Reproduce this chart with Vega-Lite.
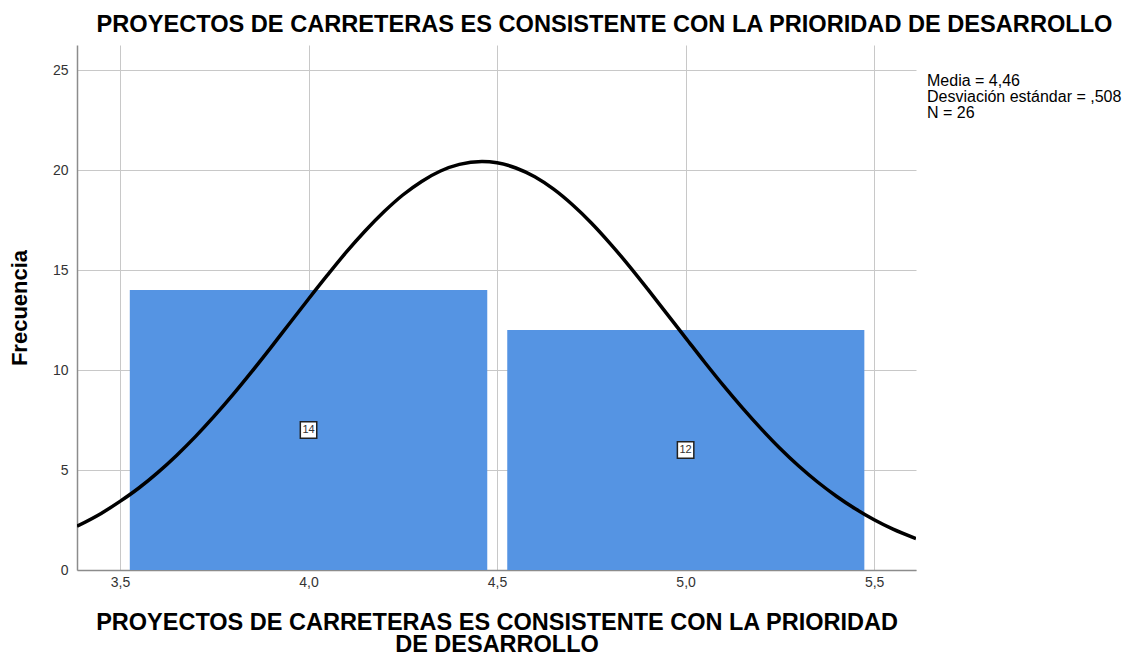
{
  "$schema": "https://vega.github.io/schema/vega-lite/v6.json",
  "autosize": {"type": "none"},
  "padding": {"left": 77, "top": 45, "right": 208, "bottom": 86},
  "width": 839,
  "height": 525,
  "background": "white",
  "config": {
    "font": "Liberation Sans",
    "view": {"stroke": null},
    "axis": {
      "gridColor": "#c8c8c8",
      "gridWidth": 1,
      "domainColor": "#8c8c8c",
      "domainWidth": 1.5,
      "ticks": false,
      "labelFont": "Liberation Sans",
      "labelFontSize": 14,
      "labelColor": "#333333",
      "titleFont": "Liberation Sans",
      "titleFontWeight": "bold",
      "titleColor": "#000000"
    }
  },
  "title": {
    "text": "PROYECTOS DE CARRETERAS ES CONSISTENTE CON LA PRIORIDAD DE DESARROLLO",
    "font": "Liberation Sans",
    "fontSize": 23.6,
    "fontWeight": "bold",
    "color": "#000000",
    "anchor": "middle",
    "frame": "group",
    "dx": 108,
    "offset": 8
  },
  "datasets": {
    "bars": [
      {"x0": 3.526, "x1": 4.474, "mid": 4.0, "count": 14},
      {"x0": 4.527, "x1": 5.474, "mid": 5.0, "count": 12}
    ],
    "curve": [
      {"x": 3.386, "y": 2.19}, {"x": 3.45, "y": 2.83}, {"x": 3.5, "y": 3.43}, {"x": 3.55, "y": 4.10},
      {"x": 3.6, "y": 4.87}, {"x": 3.65, "y": 5.73}, {"x": 3.7, "y": 6.67}, {"x": 3.75, "y": 7.69},
      {"x": 3.8, "y": 8.78}, {"x": 3.85, "y": 9.93}, {"x": 3.9, "y": 11.12}, {"x": 3.95, "y": 12.34},
      {"x": 4.0, "y": 13.55}, {"x": 4.05, "y": 14.74}, {"x": 4.1, "y": 15.89}, {"x": 4.15, "y": 16.95},
      {"x": 4.2, "y": 17.91}, {"x": 4.25, "y": 18.75}, {"x": 4.3, "y": 19.43}, {"x": 4.35, "y": 19.95},
      {"x": 4.4, "y": 20.28}, {"x": 4.46, "y": 20.42}, {"x": 4.5, "y": 20.36}, {"x": 4.55, "y": 20.10},
      {"x": 4.6, "y": 19.66}, {"x": 4.65, "y": 19.04}, {"x": 4.7, "y": 18.26}, {"x": 4.75, "y": 17.35},
      {"x": 4.8, "y": 16.32}, {"x": 4.85, "y": 15.21}, {"x": 4.9, "y": 14.03}, {"x": 4.95, "y": 12.82},
      {"x": 5.0, "y": 11.61}, {"x": 5.05, "y": 10.40}, {"x": 5.1, "y": 9.23}, {"x": 5.15, "y": 8.12},
      {"x": 5.2, "y": 7.07}, {"x": 5.25, "y": 6.09}, {"x": 5.3, "y": 5.20}, {"x": 5.35, "y": 4.40},
      {"x": 5.4, "y": 3.69}, {"x": 5.45, "y": 3.06}, {"x": 5.5, "y": 2.51}, {"x": 5.55, "y": 2.04},
      {"x": 5.611, "y": 1.57}
    ],
    "stats": [
      {"stat": "Media = 4,46"},
      {"stat": "Desviación estándar = ,508"},
      {"stat": "N = 26"}
    ]
  },
  "layer": [
    {
      "data": {"name": "bars"},
      "mark": {"type": "rect", "color": "#5594e3"},
      "encoding": {
        "x": {
          "field": "x0", "type": "quantitative",
          "scale": {"domain": [3.386, 5.611], "nice": false, "zero": false},
          "axis": {
            "values": [3.5, 4.0, 4.5, 5.0, 5.5],
            "format": ".1f",
            "labelExpr": "replace(datum.label, '.', ',')",
            "labelPadding": 5,
            "title": ["PROYECTOS DE CARRETERAS ES CONSISTENTE CON LA PRIORIDAD", "DE DESARROLLO"],
            "titleFontSize": 23.5,
            "titleLineHeight": 22,
            "titlePadding": 21
          }
        },
        "x2": {"field": "x1"},
        "y": {
          "field": "count", "type": "quantitative",
          "scale": {"domain": [0, 26.25], "nice": false},
          "axis": {
            "values": [0, 5, 10, 15, 20, 25],
            "labelPadding": 9,
            "title": "Frecuencia",
            "titleFontSize": 22,
            "titlePadding": 21
          }
        },
        "y2": {"datum": 0}
      }
    },
    {
      "data": {"name": "curve"},
      "mark": {"type": "line", "color": "#000000", "strokeWidth": 3.5, "interpolate": "monotone", "clip": true},
      "encoding": {
        "x": {"field": "x", "type": "quantitative"},
        "y": {"field": "y", "type": "quantitative"}
      }
    },
    {
      "data": {"name": "bars"},
      "transform": [{"calculate": "datum.count / 2", "as": "half"}],
      "mark": {"type": "square", "size": 270, "fill": "white", "stroke": "#222222", "strokeWidth": 1.5, "opacity": 1},
      "encoding": {
        "x": {"field": "mid", "type": "quantitative"},
        "y": {"field": "half", "type": "quantitative"}
      }
    },
    {
      "data": {"name": "bars"},
      "transform": [{"calculate": "datum.count / 2", "as": "half"}],
      "mark": {"type": "text", "fontSize": 11, "color": "#333333", "align": "center", "baseline": "middle"},
      "encoding": {
        "x": {"field": "mid", "type": "quantitative"},
        "y": {"field": "half", "type": "quantitative"},
        "text": {"field": "count", "type": "quantitative"}
      }
    },
    {
      "data": {"name": "stats"},
      "mark": {"type": "point", "opacity": 0, "size": 0},
      "encoding": {
        "color": {
          "field": "stat", "type": "nominal",
          "scale": {"domain": ["Media = 4,46", "Desviación estándar = ,508", "N = 26"], "range": ["#000000", "#000000", "#000000"]},
          "legend": {
            "orient": "none",
            "legendX": 834,
            "legendY": 28,
            "title": null,
            "symbolSize": 0,
            "symbolOpacity": 0,
            "symbolStrokeWidth": 0,
            "labelOffset": 0,
            "labelLimit": 400,
            "labelFont": "Liberation Sans",
            "labelFontSize": 16,
            "labelColor": "#000000",
            "rowPadding": -3,
            "padding": 0
          }
        }
      }
    }
  ]
}
